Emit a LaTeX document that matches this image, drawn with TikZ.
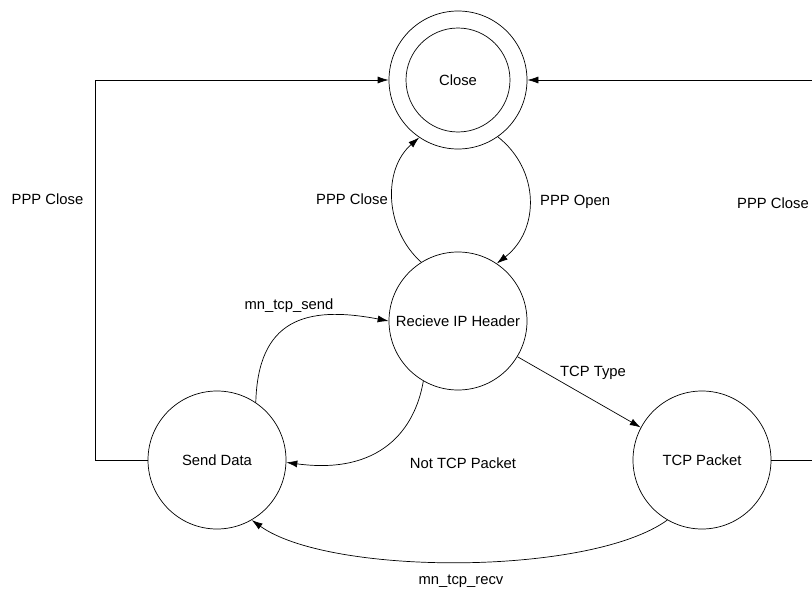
\documentclass[tikz,border=0pt]{standalone}
\usepackage{fontspec}
\setmainfont{Liberation Sans}
\usetikzlibrary{arrows.meta}
\tikzset{
  state/.style={draw, circle, minimum size=138pt, inner sep=0pt, line width=0.7pt},
  conn/.style={draw, line width=0.7pt, -{Latex[length=11pt,width=7pt]}},
  lbl/.style={inner sep=0pt}
}
\begin{document}
\begin{tikzpicture}[x=1pt,y=-1pt,font=\fontsize{14.8}{17}\selectfont]
\useasboundingbox (0,0) rectangle (812,589);
\node[state] (close) at (458,80) {Close};
\draw[line width=0.7pt] (close.center) circle (52pt);
\node[state] (rih) at (458,321) {Recieve IP Header};
\node[state] (send) at (217,460) {Send Data};
\node[state] (tcp) at (702,460) {TCP Packet};
\coordinate (lc) at (95,460);
\coordinate (rc) at (813.5,460);

\draw[conn] (rih.122) .. controls (385,230) and (382,170) .. (close.236.5);
\draw[conn] (close.-55) .. controls (540,170) and (540,230) .. (rih.56.5);
\draw[conn] (send.56) .. controls (258,320) and (305,305) .. (rih.west);
\draw[conn] (rih.240) .. controls (415,430) and (380,475) .. (send.-2);
\draw[conn] (rih.-31) -- (tcp.152);
\draw[conn] (tcp.240) .. controls (590,576) and (330,576) .. (send.-60);
\draw[conn] (send.west) -- (lc) |- (close.west);
\draw[conn] (tcp.east) -- (rc) |- (close.east);

\node[lbl] (l1) at (47.5,199) {PPP Close};
\node[lbl,anchor=east] (l2) at (388,199) {PPP Close};
\node[lbl,anchor=west] (l3) at (540,202) {PPP Open};
\node[lbl,anchor=west] (l4) at (737,203) {PPP Close};
\node[lbl] (l5) at (289,306) {mn\_tcp\_send};
\node[lbl] (l6) at (463,463) {Not TCP Packet};
\node[lbl] (l7) at (593,373) {TCP Type};
\node[lbl] (l8) at (461,581) {mn\_tcp\_recv};
\end{tikzpicture}
\end{document}
